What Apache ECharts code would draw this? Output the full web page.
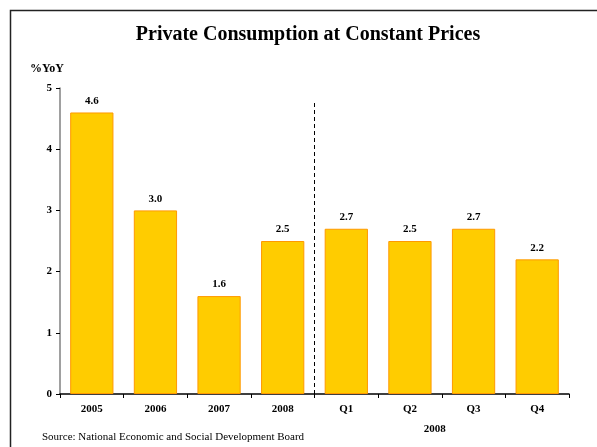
<!DOCTYPE html>
<html>
<head>
<meta charset="utf-8">
<script src="https://cdn.jsdelivr.net/npm/echarts@6/dist/echarts.min.js"></script>
<style>
  html, body { margin: 0; padding: 0; background: #fff; }
  #chart { width: 597px; height: 447px; }
</style>
</head>
<body>
<div id="chart"></div>
<script>
// Private consumption growth, %YoY: annual 2005-2008, then the 2008 quarters
const categories = ['2005', '2006', '2007', '2008', 'Q1', 'Q2', 'Q3', 'Q4'];
const growth = [4.6, 3.0, 1.6, 2.5, 2.7, 2.5, 2.7, 2.2];
const yTicks = [0, 1, 2, 3, 4, 5];
const quarterYear = '2008';

const font = '"Liberation Serif", "Times New Roman", serif';
const chart = echarts.init(document.getElementById('chart'));

chart.setOption({
  animation: false,
  textStyle: { fontFamily: font },
  title: {
    text: 'Private Consumption at Constant Prices',
    left: 303, top: 20, textAlign: 'center',
    textStyle: { fontFamily: font, fontSize: 20, fontWeight: 'bold', color: '#000' }
  },
  graphic: [
    { type: 'rect', shape: { x: 10.5, y: 10.5, width: 620, height: 470 },
      style: { fill: 'none', stroke: '#222', lineWidth: 1.5 }, silent: true },
    { type: 'text', left: 30, top: 63,
      style: { text: '%YoY', font: 'bold 12px ' + font, fill: '#000' } },
    { type: 'text', left: 42, top: 432,
      style: { text: 'Source: National Economic and Social Development Board', font: '11px ' + font, fill: '#000' } }
  ],
  grid: { left: 60, right: 28, top: 88, bottom: 53, containLabel: false },
  xAxis: [
    {
      type: 'category', data: categories,
      axisLine: { lineStyle: { color: '#000', width: 1.5 } },
      axisTick: { show: true, length: 4, lineStyle: { color: '#000' } },
      axisLabel: { fontFamily: font, fontSize: 11, fontWeight: 'bold', color: '#000', margin: 10 }
    },
    {
      // span of slots 0..8, used for the divider and the quarter-year caption
      type: 'value', position: 'bottom', min: 0, max: 8, interval: 1,
      axisLine: { show: false }, axisTick: { show: false }, splitLine: { show: false },
      axisLabel: {
        show: true, margin: 30, fontFamily: font, fontSize: 11, fontWeight: 'bold', color: '#000',
        padding: [0, 14, 0, 0],
        formatter: v => (v === 6 ? quarterYear : '')
      }
    }
  ],
  yAxis: {
    type: 'value', min: yTicks[0], max: yTicks[yTicks.length - 1], interval: 1,
    axisLine: { show: true, lineStyle: { color: '#808080', width: 1.5 } },
    axisTick: { show: true, length: 4, lineStyle: { color: '#000' } },
    splitLine: { show: false },
    axisLabel: { fontFamily: font, fontSize: 11, fontWeight: 'bold', color: '#000', margin: 8 }
  },
  series: [
    {
      type: 'bar', data: growth, xAxisIndex: 0,
      barCategoryGap: '32%',
      itemStyle: { color: '#FFCC00', borderColor: '#FF9900', borderWidth: 1 },
      label: {
        show: true, position: 'top', distance: 6,
        fontFamily: font, fontSize: 11, fontWeight: 'bold', color: '#000',
        formatter: p => p.value.toFixed(1)
      }
    },
    {
      type: 'line', xAxisIndex: 1, data: [], symbol: 'none',
      markLine: {
        silent: true, symbol: 'none', label: { show: false },
        lineStyle: { type: [4, 3], color: '#000', width: 1 },
        data: [[{ coord: [4, 0] }, { coord: [4, 4.8] }]]
      }
    }
  ]
});
</script>
</body>
</html>
